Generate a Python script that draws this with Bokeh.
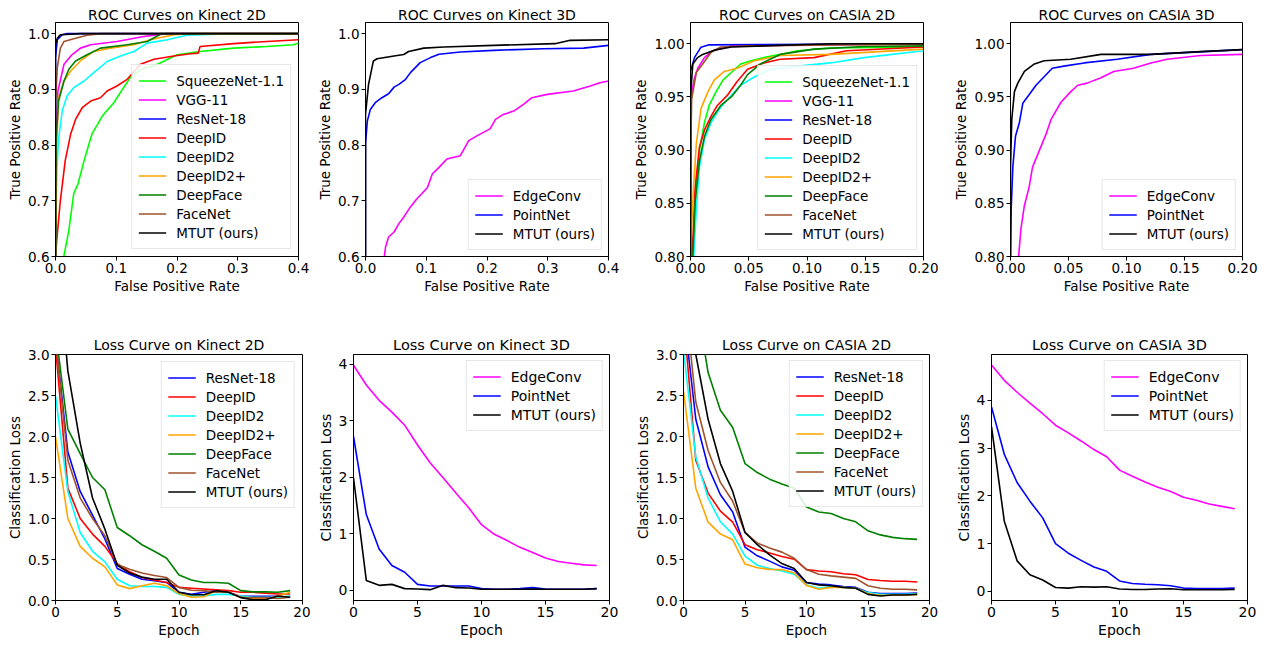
from bokeh.plotting import figure
from bokeh.layouts import row, column
from bokeh.models import Range1d, FixedTicker
from bokeh.embed import file_html
from bokeh.resources import INLINE

FONT = "DejaVu Sans"

# ---------------- data: ROC Kinect 2D ----------------
k2d_squeeze_fpr = [0.0137, 0.022, 0.030, 0.037, 0.047, 0.060, 0.068, 0.077, 0.096, 0.112, 0.123, 0.14, 0.162, 0.2, 0.238, 0.293, 0.348, 0.392, 0.4]
k2d_squeeze_tpr = [0.6, 0.647, 0.713, 0.730, 0.772, 0.82, 0.835, 0.852, 0.876, 0.903, 0.921, 0.936, 0.942, 0.962, 0.968, 0.974, 0.977, 0.98, 0.983]
k2d_vgg_fpr = [0.0, 0.001, 0.004, 0.014, 0.027, 0.041, 0.058, 0.101, 0.145, 0.184, 0.4]
k2d_vgg_tpr = [0.6, 0.81, 0.897, 0.945, 0.962, 0.974, 0.98, 0.986, 0.995, 1.0, 1.0]
k2d_resnet_fpr = [0.0, 0.0, 0.003, 0.011, 0.019, 0.4]
k2d_resnet_tpr = [0.6, 0.957, 0.989, 0.998, 1.0, 1.0]
k2d_deepid_fpr = [0.0, 0.003, 0.008, 0.016, 0.025, 0.033, 0.044, 0.058, 0.074, 0.085, 0.101, 0.118, 0.14, 0.162, 0.195, 0.222, 0.235, 0.238, 0.293, 0.348, 0.4]
k2d_deepid_tpr = [0.6, 0.641, 0.70, 0.772, 0.82, 0.846, 0.867, 0.879, 0.885, 0.897, 0.906, 0.918, 0.945, 0.954, 0.96, 0.964, 0.965, 0.977, 0.982, 0.986, 0.989]
k2d_deepid2_fpr = [0.0, 0.002, 0.005, 0.011, 0.019, 0.03, 0.047, 0.063, 0.085, 0.107, 0.129, 0.151, 0.184, 0.216, 0.266, 0.4]
k2d_deepid2_tpr = [0.6, 0.75, 0.81, 0.861, 0.888, 0.903, 0.915, 0.93, 0.95, 0.96, 0.968, 0.983, 0.989, 0.997, 0.999, 1.0]
k2d_deepid2p_fpr = [0.0, 0.002, 0.005, 0.014, 0.025, 0.041, 0.063, 0.09, 0.129, 0.156, 0.195, 0.22, 0.4]
k2d_deepid2p_tpr = [0.6, 0.8, 0.885, 0.915, 0.933, 0.951, 0.968, 0.974, 0.98, 0.989, 0.998, 1.0, 1.0]
k2d_deepface_fpr = [0.0, 0.001, 0.005, 0.014, 0.022, 0.033, 0.052, 0.074, 0.118, 0.151, 0.17, 0.173, 0.4]
k2d_deepface_tpr = [0.6, 0.81, 0.879, 0.915, 0.936, 0.951, 0.962, 0.974, 0.98, 0.986, 0.997, 1.0, 1.0]
k2d_facenet_fpr = [0.0, 0.0, 0.003, 0.008, 0.014, 0.03, 0.052, 0.074, 0.4]
k2d_facenet_tpr = [0.6, 0.879, 0.939, 0.974, 0.986, 0.991, 0.997, 1.0, 1.0]
k2d_mtut_fpr = [0.0, 0.0, 0.003, 0.008, 0.041, 0.4]
k2d_mtut_tpr = [0.6, 0.98, 0.992, 0.998, 1.0, 1.0]

# ---------------- data: ROC Kinect 3D ----------------
k3d_edge_fpr = [0.031, 0.033, 0.038, 0.047, 0.055, 0.063, 0.074, 0.085, 0.093, 0.102, 0.11, 0.121, 0.134, 0.156, 0.17, 0.184, 0.205, 0.214, 0.227, 0.244, 0.26, 0.274, 0.299, 0.342, 0.37, 0.386, 0.4]
k3d_edge_tpr = [0.6, 0.617, 0.635, 0.644, 0.659, 0.671, 0.689, 0.704, 0.713, 0.724, 0.748, 0.76, 0.775, 0.781, 0.808, 0.817, 0.829, 0.846, 0.855, 0.861, 0.873, 0.885, 0.891, 0.897, 0.906, 0.912, 0.915]
k3d_point_fpr = [0.0, 0.0, 0.003, 0.008, 0.016, 0.027, 0.038, 0.047, 0.055, 0.066, 0.074, 0.09, 0.107, 0.121, 0.156, 0.211, 0.293, 0.359, 0.4]
k3d_point_tpr = [0.6, 0.802, 0.843, 0.864, 0.876, 0.885, 0.892, 0.904, 0.909, 0.918, 0.93, 0.948, 0.957, 0.963, 0.967, 0.97, 0.973, 0.974, 0.979]
k3d_mtut_fpr = [0.0, 0.0, 0.005, 0.013, 0.019, 0.047, 0.063, 0.071, 0.096, 0.129, 0.211, 0.312, 0.337, 0.4]
k3d_mtut_tpr = [0.6, 0.855, 0.909, 0.951, 0.955, 0.96, 0.9625, 0.968, 0.974, 0.976, 0.979, 0.982, 0.988, 0.989]

# ---------------- data: ROC CASIA 2D ----------------
c2d_squeeze_fpr = [0.002, 0.005, 0.0077, 0.012, 0.016, 0.022, 0.028, 0.035, 0.043, 0.052, 0.063, 0.077, 0.092, 0.12, 0.2]
c2d_squeeze_tpr = [0.8, 0.865, 0.9, 0.926, 0.942, 0.955, 0.966, 0.973, 0.981, 0.984, 0.987, 0.990, 0.9935, 0.996, 0.997]
c2d_vgg_fpr = [0.0, 0.0006, 0.0034, 0.0063, 0.012, 0.019, 0.035, 0.2]
c2d_vgg_tpr = [0.8, 0.952, 0.968, 0.977, 0.987, 0.9935, 0.998, 1.0]
c2d_resnet_fpr = [0.0, 0.0, 0.0034, 0.009, 0.016, 0.2]
c2d_resnet_tpr = [0.8, 0.974, 0.987, 0.9968, 0.999, 1.0]
c2d_deepid_fpr = [0.0014, 0.004, 0.0077, 0.012, 0.0177, 0.023, 0.032, 0.040, 0.049, 0.063, 0.077, 0.106, 0.134, 0.2]
c2d_deepid_tpr = [0.8, 0.865, 0.903, 0.919, 0.932, 0.942, 0.952, 0.9645, 0.976, 0.982, 0.9855, 0.987, 0.9935, 0.997]
c2d_deepid2_fpr = [0.0028, 0.005, 0.0077, 0.012, 0.0177, 0.025, 0.032, 0.043, 0.055, 0.069, 0.092, 0.12, 0.149, 0.2]
c2d_deepid2_tpr = [0.8, 0.845, 0.884, 0.91, 0.926, 0.939, 0.948, 0.961, 0.969, 0.976, 0.979, 0.982, 0.987, 0.9935]
c2d_deepid2p_fpr = [0.0002, 0.0006, 0.0026, 0.005, 0.009, 0.015, 0.0205, 0.029, 0.040, 0.055, 0.077, 0.12, 0.2]
c2d_deepid2p_tpr = [0.8, 0.819, 0.865, 0.906, 0.939, 0.955, 0.966, 0.974, 0.977, 0.984, 0.989, 0.990, 0.995]
c2d_deepface_fpr = [0.002, 0.004, 0.0077, 0.012, 0.0177, 0.026, 0.035, 0.043, 0.049, 0.06, 0.077, 0.106, 0.149, 0.2]
c2d_deepface_tpr = [0.8, 0.852, 0.89, 0.913, 0.929, 0.942, 0.95, 0.961, 0.971, 0.981, 0.990, 0.995, 0.9974, 0.998]
c2d_facenet_fpr = [0.0, 0.0, 0.001, 0.005, 0.0105, 0.0177, 0.026, 0.049, 0.2]
c2d_facenet_tpr = [0.8, 0.89, 0.948, 0.973, 0.981, 0.992, 0.997, 0.998, 0.9995]
c2d_mtut_fpr = [0.0, 0.0, 0.002, 0.006, 0.0105, 0.0205, 0.035, 0.063, 0.12, 0.2]
c2d_mtut_tpr = [0.8, 0.952, 0.981, 0.987, 0.990, 0.994, 0.997, 0.998, 1.0, 1.0]

# ---------------- data: ROC CASIA 3D ----------------
c3d_edge_fpr = [0.007, 0.009, 0.012, 0.016, 0.019, 0.025, 0.031, 0.035, 0.0435, 0.052, 0.058, 0.066, 0.078, 0.089, 0.106, 0.121, 0.135, 0.164, 0.2]
c3d_edge_tpr = [0.8, 0.826, 0.848, 0.865, 0.884, 0.9, 0.916, 0.929, 0.945, 0.955, 0.961, 0.963, 0.968, 0.974, 0.977, 0.982, 0.9855, 0.989, 0.990]
c3d_point_fpr = [0.0, 0.0006, 0.002, 0.0043, 0.0077, 0.0106, 0.016, 0.022, 0.029, 0.036, 0.046, 0.0635, 0.092, 0.121, 0.2]
c3d_point_tpr = [0.8, 0.845, 0.884, 0.913, 0.926, 0.944, 0.952, 0.961, 0.969, 0.977, 0.979, 0.982, 0.9855, 0.990, 0.9945]
c3d_mtut_fpr = [0.0, 0.0, 0.0011, 0.0034, 0.0063, 0.012, 0.0206, 0.029, 0.052, 0.078, 0.121, 0.164, 0.2]
c3d_mtut_tpr = [0.8, 0.884, 0.929, 0.955, 0.963, 0.974, 0.981, 0.984, 0.9855, 0.99, 0.990, 0.9926, 0.9945]

# ---------------- data: loss curves ----------------
epochs = [0, 1, 2, 3, 4, 5, 6, 7, 8, 9, 10, 11, 12, 13, 14, 15, 16, 17, 18, 19]

lk2d_resnet = [3.2, 1.81, 1.33, 1.04, 0.75, 0.39, 0.32, 0.26, 0.24, 0.22, 0.10, 0.075, 0.10, 0.12, 0.10, 0.05, 0.05, 0.05, 0.05, 0.04]
lk2d_deepid = [3.1, 1.37, 1.0, 0.81, 0.66, 0.45, 0.35, 0.28, 0.25, 0.22, 0.16, 0.15, 0.14, 0.13, 0.12, 0.10, 0.10, 0.09, 0.08, 0.08]
lk2d_deepid2 = [2.5, 1.33, 0.83, 0.6, 0.47, 0.26, 0.18, 0.17, 0.17, 0.16, 0.075, 0.055, 0.055, 0.075, 0.075, 0.055, 0.04, 0.04, 0.04, 0.055]
lk2d_deepid2p = [2.0, 1.0, 0.66, 0.515, 0.41, 0.19, 0.145, 0.18, 0.21, 0.18, 0.085, 0.04, 0.045, 0.12, 0.10, 0.04, 0.02, 0.02, 0.055, 0.10]
lk2d_deepface = [3.3, 2.09, 1.79, 1.5, 1.35, 0.89, 0.79, 0.68, 0.6, 0.515, 0.31, 0.25, 0.22, 0.22, 0.21, 0.12, 0.105, 0.105, 0.10, 0.12]
lk2d_facenet = [3.2, 1.71, 1.25, 1.0, 0.79, 0.44, 0.38, 0.335, 0.305, 0.28, 0.16, 0.125, 0.12, 0.10, 0.105, 0.04, 0.035, 0.035, 0.025, 0.04]
lk2d_mtut = [4.5, 2.8, 1.92, 1.25, 0.87, 0.43, 0.335, 0.285, 0.26, 0.26, 0.10, 0.07, 0.07, 0.12, 0.10, 0.035, 0.01, 0.01, 0.055, 0.04]

lk3d_edge = [3.98, 3.63, 3.36, 3.15, 2.92, 2.57, 2.25, 1.99, 1.72, 1.46, 1.16, 0.99, 0.88, 0.76, 0.67, 0.57, 0.51, 0.48, 0.45, 0.44]
lk3d_point = [2.72, 1.34, 0.73, 0.44, 0.32, 0.105, 0.076, 0.076, 0.076, 0.076, 0.03, 0.018, 0.018, 0.03, 0.047, 0.023, 0.018, 0.018, 0.018, 0.03]
lk3d_mtut = [1.99, 0.175, 0.088, 0.105, 0.03, 0.023, 0.012, 0.088, 0.047, 0.041, 0.018, 0.02, 0.02, 0.02, 0.023, 0.02, 0.02, 0.02, 0.02, 0.03]

lc2d_resnet = [3.53, 2.21, 1.63, 1.29, 1.08, 0.65, 0.545, 0.48, 0.41, 0.37, 0.22, 0.2, 0.19, 0.17, 0.16, 0.10, 0.085, 0.085, 0.085, 0.09]
lc2d_deepid = [3.48, 1.71, 1.31, 1.09, 0.955, 0.68, 0.62, 0.58, 0.536, 0.503, 0.377, 0.36, 0.35, 0.327, 0.314, 0.256, 0.243, 0.235, 0.235, 0.226]
lc2d_deepid2 = [3.05, 1.75, 1.25, 0.96, 0.81, 0.54, 0.43, 0.39, 0.36, 0.32, 0.19, 0.15, 0.17, 0.16, 0.15, 0.096, 0.075, 0.075, 0.075, 0.084]
lc2d_deepid2p = [2.55, 1.37, 0.955, 0.81, 0.74, 0.444, 0.4, 0.38, 0.377, 0.335, 0.184, 0.138, 0.16, 0.16, 0.15, 0.084, 0.063, 0.067, 0.067, 0.075]
lc2d_deepface = [4.5, 3.7, 2.78, 2.32, 2.11, 1.67, 1.56, 1.48, 1.42, 1.37, 1.14, 1.08, 1.06, 1.0, 0.96, 0.85, 0.80, 0.77, 0.754, 0.746]
lc2d_facenet = [3.87, 2.42, 1.83, 1.44, 1.21, 0.83, 0.70, 0.64, 0.59, 0.515, 0.377, 0.32, 0.30, 0.285, 0.27, 0.18, 0.15, 0.138, 0.138, 0.13]
lc2d_mtut = [4.2, 3.0, 2.21, 1.67, 1.33, 0.83, 0.68, 0.557, 0.45, 0.39, 0.22, 0.19, 0.18, 0.16, 0.15, 0.075, 0.055, 0.067, 0.067, 0.075]

lc3d_edge = [4.74, 4.42, 4.17, 3.94, 3.72, 3.48, 3.32, 3.15, 2.97, 2.82, 2.54, 2.41, 2.29, 2.18, 2.09, 1.97, 1.91, 1.83, 1.78, 1.73]
lc3d_point = [3.86, 2.87, 2.28, 1.89, 1.54, 1.0, 0.80, 0.65, 0.51, 0.42, 0.22, 0.166, 0.15, 0.14, 0.12, 0.07, 0.062, 0.062, 0.062, 0.07]
lc3d_mtut = [3.45, 1.47, 0.64, 0.35, 0.24, 0.083, 0.07, 0.097, 0.09, 0.097, 0.05, 0.04, 0.04, 0.05, 0.055, 0.035, 0.035, 0.035, 0.035, 0.04]

# ---------------- ticks ----------------
roc4_xticks = [0.0, 0.1, 0.2, 0.3, 0.4]
roc4_xlabels = ["0.0", "0.1", "0.2", "0.3", "0.4"]
roc4_yticks = [0.6, 0.7, 0.8, 0.9, 1.0]
roc4_ylabels = ["0.6", "0.7", "0.8", "0.9", "1.0"]
roc2_xticks = [0.0, 0.05, 0.10, 0.15, 0.20]
roc2_xlabels = ["0.00", "0.05", "0.10", "0.15", "0.20"]
roc2_yticks = [0.80, 0.85, 0.90, 0.95, 1.00]
roc2_ylabels = ["0.80", "0.85", "0.90", "0.95", "1.00"]
loss_xticks = [0, 5, 10, 15, 20]
loss_xlabels = ["0", "5", "10", "15", "20"]
loss3_yticks = [0.0, 0.5, 1.0, 1.5, 2.0, 2.5, 3.0]
loss3_ylabels = ["0.0", "0.5", "1.0", "1.5", "2.0", "2.5", "3.0"]
loss4_yticks = [0, 1, 2, 3, 4]
loss4_ylabels = ["0", "1", "2", "3", "4"]

COLORS = {
    "SqueezeNet-1.1": "#00ff00", "VGG-11": "#ff00ff", "ResNet-18": "#0000ff",
    "DeepID": "#ff0000", "DeepID2": "#00ffff", "DeepID2+": "#ffa500",
    "DeepFace": "#008000", "FaceNet": "#a0522d", "MTUT (ours)": "#000000",
    "EdgeConv": "#ff00ff", "PointNet": "#0000ff",
}


def make_fig(title, w, h, bl, br, bt, bb, xr, yr, xt, xl, yt, yl, xlabel, ylabel,
             tsize="14px", fsize="13.5px", tstand=3):
    p = figure(width=w, height=h, x_range=Range1d(*xr), y_range=Range1d(*yr),
               output_backend="svg", toolbar_location=None, title=title,
               min_border_left=bl, min_border_right=br, min_border_top=bt, min_border_bottom=bb)
    p.title.text_font = FONT
    p.title.text_font_size = tsize
    p.title.text_font_style = "normal"
    p.title.text_color = "#000000"
    p.title.align = "center"
    p.title.standoff = tstand
    p.outline_line_color = "#000000"
    p.outline_line_width = 1
    p.outline_line_alpha = 1.0
    p.xgrid.visible = False
    p.ygrid.visible = False
    p.background_fill_color = "white"
    p.border_fill_color = "white"
    for ax, ticks, labels, lab in ((p.xaxis[0], xt, xl, xlabel), (p.yaxis[0], yt, yl, ylabel)):
        ax.ticker = FixedTicker(ticks=ticks)
        ax.major_label_overrides = {t: s for t, s in zip(ticks, labels)}
        ax.minor_tick_line_color = None
        ax.major_tick_in = 0
        ax.major_tick_out = 4
        ax.major_tick_line_color = "#000000"
        ax.axis_line_color = "#000000"
        ax.major_label_text_font = FONT
        ax.major_label_text_font_size = fsize
        ax.major_label_text_color = "#000000"
        ax.major_label_standoff = 2
        ax.axis_label = lab
        ax.axis_label_text_font = FONT
        ax.axis_label_text_font_size = fsize
        ax.axis_label_text_font_style = "normal"
        ax.axis_label_text_color = "#000000"
        ax.axis_label_standoff = 2
    return p


def style_legend(p, loc, margin, fsize="13.5px"):
    lg = p.legend[0]
    lg.location = loc
    lg.margin = margin
    lg.label_text_font = FONT
    lg.label_text_font_size = fsize
    lg.label_text_color = "#000000"
    lg.glyph_width = 28
    lg.glyph_height = 19
    lg.label_height = 19
    lg.spacing = 0
    lg.padding = 6
    lg.label_standoff = 10
    lg.border_line_color = "#d0d0d0"
    lg.border_line_width = 1
    lg.background_fill_alpha = 0.85


def add_lines(p, series):
    for name, xs, ys in series:
        p.line(xs, ys, line_color=COLORS[name], line_width=1.6, legend_label=name)


TOP_H = 302
BOT_H = 341
TOP_BT, TOP_BB = 22, 46
BOT_BT, BOT_BB = 52, 43

# ---------------- top row ----------------
p1 = make_fig("ROC Curves on Kinect 2D", 310, TOP_H, 55, 12, TOP_BT, TOP_BB, (0, 0.4), (0.6, 1.02),
              roc4_xticks, roc4_xlabels, roc4_yticks, roc4_ylabels, "False Positive Rate", "True Positive Rate",
              tstand=0)
add_lines(p1, [
    ("SqueezeNet-1.1", k2d_squeeze_fpr, k2d_squeeze_tpr),
    ("VGG-11", k2d_vgg_fpr, k2d_vgg_tpr),
    ("ResNet-18", k2d_resnet_fpr, k2d_resnet_tpr),
    ("DeepID", k2d_deepid_fpr, k2d_deepid_tpr),
    ("DeepID2", k2d_deepid2_fpr, k2d_deepid2_tpr),
    ("DeepID2+", k2d_deepid2p_fpr, k2d_deepid2p_tpr),
    ("DeepFace", k2d_deepface_fpr, k2d_deepface_tpr),
    ("FaceNet", k2d_facenet_fpr, k2d_facenet_tpr),
    ("MTUT (ours)", k2d_mtut_fpr, k2d_mtut_tpr),
])
style_legend(p1, "bottom_right", 7)

p2 = make_fig("ROC Curves on Kinect 3D", 320, TOP_H, 55, 22, TOP_BT, TOP_BB, (0, 0.4), (0.6, 1.02),
              roc4_xticks, roc4_xlabels, roc4_yticks, roc4_ylabels, "False Positive Rate", "True Positive Rate",
              tstand=0)
add_lines(p2, [
    ("EdgeConv", k3d_edge_fpr, k3d_edge_tpr),
    ("PointNet", k3d_point_fpr, k3d_point_tpr),
    ("MTUT (ours)", k3d_mtut_fpr, k3d_mtut_tpr),
])
style_legend(p2, "bottom_right", 6)

p3 = make_fig("ROC Curves on CASIA 2D", 320, TOP_H, 59, 27, TOP_BT, TOP_BB, (0, 0.2), (0.8, 1.02),
              roc2_xticks, roc2_xlabels, roc2_yticks, roc2_ylabels, "False Positive Rate", "True Positive Rate",
              tstand=0)
add_lines(p3, [
    ("SqueezeNet-1.1", c2d_squeeze_fpr, c2d_squeeze_tpr),
    ("VGG-11", c2d_vgg_fpr, c2d_vgg_tpr),
    ("ResNet-18", c2d_resnet_fpr, c2d_resnet_tpr),
    ("DeepID", c2d_deepid_fpr, c2d_deepid_tpr),
    ("DeepID2", c2d_deepid2_fpr, c2d_deepid2_tpr),
    ("DeepID2+", c2d_deepid2p_fpr, c2d_deepid2p_tpr),
    ("DeepFace", c2d_deepface_fpr, c2d_deepface_tpr),
    ("FaceNet", c2d_facenet_fpr, c2d_facenet_tpr),
    ("MTUT (ours)", c2d_mtut_fpr, c2d_mtut_tpr),
])
style_legend(p3, "bottom_right", 6)

p4 = make_fig("ROC Curves on CASIA 3D", 318, TOP_H, 59, 26, TOP_BT, TOP_BB, (0, 0.2), (0.8, 1.02),
              roc2_xticks, roc2_xlabels, roc2_yticks, roc2_ylabels, "False Positive Rate", "True Positive Rate",
              tstand=0)
add_lines(p4, [
    ("EdgeConv", c3d_edge_fpr, c3d_edge_tpr),
    ("PointNet", c3d_point_fpr, c3d_point_tpr),
    ("MTUT (ours)", c3d_mtut_fpr, c3d_mtut_tpr),
])
style_legend(p4, "bottom_right", 6)

# ---------------- bottom row ----------------
p5 = make_fig("Loss Curve on Kinect 2D", 310, BOT_H, 55, 8, BOT_BT, BOT_BB, (0, 20), (0, 3.0),
              loss_xticks, loss_xlabels, loss3_yticks, loss3_ylabels, "Epoch", "Classification Loss")
add_lines(p5, [
    ("ResNet-18", epochs, lk2d_resnet),
    ("DeepID", epochs, lk2d_deepid),
    ("DeepID2", epochs, lk2d_deepid2),
    ("DeepID2+", epochs, lk2d_deepid2p),
    ("DeepFace", epochs, lk2d_deepface),
    ("FaceNet", epochs, lk2d_facenet),
    ("MTUT (ours)", epochs, lk2d_mtut),
])
style_legend(p5, "top_right", 7)

p6 = make_fig("Loss Curve on Kinect 3D", 320, BOT_H, 43, 21, BOT_BT, BOT_BB, (0, 20), (-0.18, 4.17),
              loss_xticks, loss_xlabels, loss4_yticks, loss4_ylabels, "Epoch", "Classification Loss",
              tsize="14.5px", fsize="14px")
add_lines(p6, [
    ("EdgeConv", epochs, lk3d_edge),
    ("PointNet", epochs, lk3d_point),
    ("MTUT (ours)", epochs, lk3d_mtut),
])
style_legend(p6, "top_right", 6, fsize="14px")

p7 = make_fig("Loss Curve on CASIA 2D", 320, BOT_H, 53, 21, BOT_BT, BOT_BB, (0, 20), (0, 3.0),
              loss_xticks, loss_xlabels, loss3_yticks, loss3_ylabels, "Epoch", "Classification Loss")
add_lines(p7, [
    ("ResNet-18", epochs, lc2d_resnet),
    ("DeepID", epochs, lc2d_deepid),
    ("DeepID2", epochs, lc2d_deepid2),
    ("DeepID2+", epochs, lc2d_deepid2p),
    ("DeepFace", epochs, lc2d_deepface),
    ("FaceNet", epochs, lc2d_facenet),
    ("MTUT (ours)", epochs, lc2d_mtut),
])
style_legend(p7, "top_right", 6)

p8 = make_fig("Loss Curve on CASIA 3D", 318, BOT_H, 41, 21, BOT_BT, BOT_BB, (0, 20), (-0.19, 4.96),
              loss_xticks, loss_xlabels, loss4_yticks, loss4_ylabels, "Epoch", "Classification Loss",
              tsize="14.5px", fsize="14px")
add_lines(p8, [
    ("EdgeConv", epochs, lc3d_edge),
    ("PointNet", epochs, lc3d_point),
    ("MTUT (ours)", epochs, lc3d_mtut),
])
style_legend(p8, "top_right", 6, fsize="14px")

layout = column(row(p1, p2, p3, p4), row(p5, p6, p7, p8))
open("out.html", "w").write(file_html(layout, INLINE))
